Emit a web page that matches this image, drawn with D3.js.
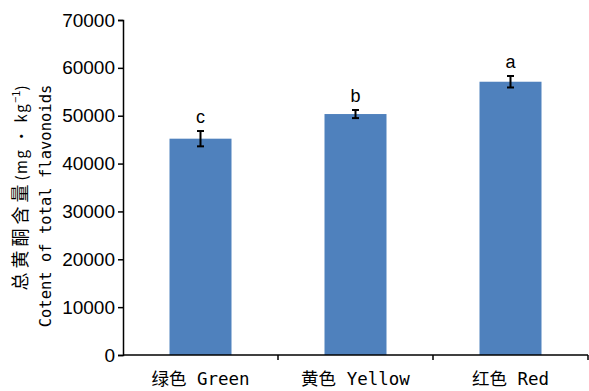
<!DOCTYPE html>
<html>
<head>
<meta charset="utf-8">
<script src="https://cdn.jsdelivr.net/npm/d3@7"></script>
<style>
  body { margin: 0; background: #fff; }
  text { fill: #000; }
</style>
</head>
<body>
<svg id="chart" width="589" height="391"></svg>
<script>
// data
var categories = ["绿色 Green", "黄色 Yellow", "红色 Red"];
var values = [45200, 50350, 57100];
var errors = [1600, 850, 1200];
var letters = ["c", "b", "a"];
var yTicks = [0, 10000, 20000, 30000, 40000, 50000, 60000, 70000];

var svg = d3.select("svg#chart");
var plotLeft = 123, plotRight = 588, plotTop = 20, plotBottom = 355;

var x = d3.scaleBand()
          .domain(categories)
          .range([plotLeft, plotRight])
          .paddingInner(0.6)
          .paddingOuter(0.3);

var y = d3.scaleLinear()
          .domain([0, 70000])
          .range([plotBottom, plotTop]);

// bars
svg.selectAll("rect.bar")
   .data(values)
   .enter().append("rect")
   .attr("class", "bar")
   .attr("x", function(d, i) { return x(categories[i]); })
   .attr("y", function(d) { return y(d); })
   .attr("width", x.bandwidth())
   .attr("height", function(d) { return y(0) - y(d); })
   .attr("fill", "#4f81bd");

// error bars
var eb = svg.selectAll("g.err")
            .data(values)
            .enter().append("g")
            .attr("class", "err")
            .attr("stroke", "#000")
            .attr("stroke-width", 2);

eb.append("line")
  .attr("x1", function(d, i) { return x(categories[i]) + x.bandwidth() / 2; })
  .attr("x2", function(d, i) { return x(categories[i]) + x.bandwidth() / 2; })
  .attr("y1", function(d, i) { return y(d + errors[i]); })
  .attr("y2", function(d, i) { return y(d - errors[i]); });

[1, -1].forEach(function(s) {
  eb.append("line")
    .attr("x1", function(d, i) { return x(categories[i]) + x.bandwidth() / 2 - 3.5; })
    .attr("x2", function(d, i) { return x(categories[i]) + x.bandwidth() / 2 + 3.5; })
    .attr("y1", function(d, i) { return y(d + s * errors[i]); })
    .attr("y2", function(d, i) { return y(d + s * errors[i]); });
});

// significance letters
svg.selectAll("text.sig")
   .data(values)
   .enter().append("text")
   .attr("class", "sig")
   .attr("x", function(d, i) { return x(categories[i]) + x.bandwidth() / 2; })
   .attr("y", function(d, i) { return y(d + errors[i]) - 8; })
   .attr("text-anchor", "middle")
   .style("font-family", "Liberation Sans, Arial, sans-serif")
   .style("font-size", "18px")
   .text(function(d, i) { return letters[i]; });

// y axis
var yAxis = svg.append("g")
               .attr("transform", "translate(" + plotLeft + ",0)")
               .call(d3.axisLeft(y).tickValues(yTicks).tickSize(5).tickPadding(3).tickFormat(d3.format("d")));
yAxis.selectAll("text")
     .style("font-family", "Liberation Sans, Arial, sans-serif")
     .style("font-size", "19px")
     .attr("fill", "#000");
yAxis.select(".domain").attr("stroke-width", 1.5);
yAxis.selectAll(".tick line").attr("stroke-width", 1.5);

// x axis
var bounds = categories.map(function(c) { return x(c) + x.bandwidth() + x.step() * x.paddingInner() / 2; });
svg.append("line")
   .attr("x1", plotLeft).attr("x2", plotRight)
   .attr("y1", plotBottom).attr("y2", plotBottom)
   .attr("stroke", "#000").attr("stroke-width", 1.5);
svg.selectAll("line.xtick")
   .data(bounds)
   .enter().append("line")
   .attr("class", "xtick")
   .attr("x1", function(d) { return d; })
   .attr("x2", function(d) { return d; })
   .attr("y1", plotBottom).attr("y2", plotBottom + 5)
   .attr("stroke", "#000").attr("stroke-width", 1.5);

svg.selectAll("text.xlab")
   .data(categories)
   .enter().append("text")
   .attr("class", "xlab")
   .attr("x", function(d) { return x(d) + x.bandwidth() / 2; })
   .attr("y", 385)
   .attr("text-anchor", "middle")
   .style("font-family", "DejaVu Sans Mono, Noto Sans CJK SC, monospace")
   .style("font-size", "17.5px")
   .text(function(d) { return d; });

// y label, Chinese line
var lab1 = svg.append("text")
              .attr("transform", "translate(27,188) rotate(-90)")
              .attr("text-anchor", "middle")
              .style("font-family", "Noto Sans CJK SC, sans-serif")
              .style("font-size", "18px");
lab1.append("tspan").style("letter-spacing", "4px").text("总黄酮含量");
lab1.append("tspan").style("font-size", "15px").style("letter-spacing", "1.5px").text("(mg · kg");
lab1.append("tspan").style("font-size", "11px").attr("dy", -7).text("−1");
lab1.append("tspan").style("font-size", "15px").attr("dy", 7).text(")");

// y label, English line
svg.append("text")
   .attr("transform", "translate(51,206) rotate(-90)")
   .attr("text-anchor", "middle")
   .style("font-family", "DejaVu Sans Mono, monospace")
   .style("font-size", "15.5px")
   .text("Cotent of total flavonoids");
</script>
</body>
</html>
